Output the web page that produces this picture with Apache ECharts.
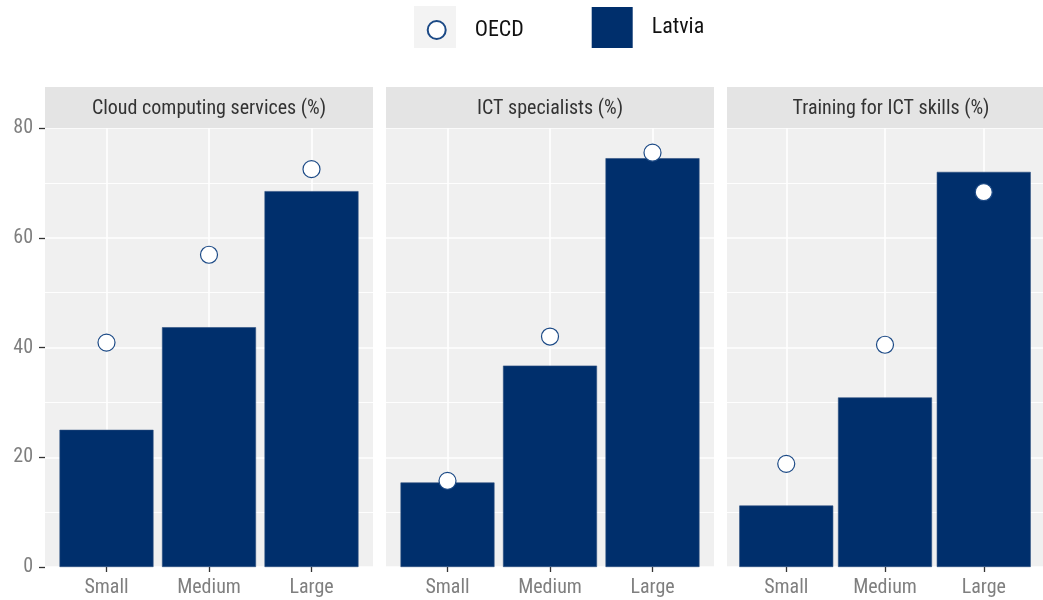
<!DOCTYPE html>
<html>
<head>
<meta charset="utf-8">
<script src="https://cdn.jsdelivr.net/npm/echarts@6/dist/echarts.min.js"></script>
<style>
html,body{margin:0;padding:0;background:#fff;}
#chart{width:1043px;height:600px;}
</style>
</head>
<body>
<div id="chart"></div>
<script>
const categories = ['Small', 'Medium', 'Large'];
const panelTitles = ['Cloud computing services (%)', 'ICT specialists (%)', 'Training for ICT skills (%)'];
const latviaCloud = [25.0, 43.7, 68.5];
const latviaSpecialists = [15.4, 36.7, 74.5];
const latviaTraining = [11.2, 30.9, 72.0];
const oecdCloud = [40.9, 56.9, 72.5];
const oecdSpecialists = [15.7, 42.0, 75.5];
const oecdTraining = [18.8, 40.5, 68.3];
const yTicks = [0, 20, 40, 60, 80];

const latviaPanels = [latviaCloud, latviaSpecialists, latviaTraining];
const oecdPanels = [oecdCloud, oecdSpecialists, oecdTraining];

// pick a condensed sans font if one is installed
function pickFont() {
  const ctx = document.createElement('canvas').getContext('2d');
  const s = 'Cloud computing services OECD Latvia Medium 0123';
  ctx.font = "20px 'Liberation Sans', sans-serif";
  const ref = ctx.measureText(s).width;
  const cands = ['Liberation Sans Narrow', 'Arial Narrow', 'Nimbus Sans Narrow', 'Roboto Condensed',
                 'DejaVu Sans Condensed', 'Open Sans Condensed', 'Noto Sans Condensed', 'Noto Sans Display Condensed'];
  for (const name of cands) {
    let present = false;
    for (const base of ['monospace', 'serif']) {
      ctx.font = '20px ' + base;
      const w0 = ctx.measureText(s).width;
      ctx.font = "20px '" + name + "', " + base;
      const w1 = ctx.measureText(s).width;
      if (w0 !== w1) present = true;
    }
    if (present) {
      ctx.font = "20px '" + name + "', sans-serif";
      const w = ctx.measureText(s).width;
      if (w < ref * 0.92) return {family: "'" + name + "', sans-serif", narrow: true, ratio: w / ref};
    }
  }
  return {family: "'Liberation Sans', Arial, sans-serif", narrow: false, ratio: 1};
}
const pf = pickFont();
const FONT = pf.family;
const SZ = pf.narrow ? 20 : 18;
const LSZ = pf.narrow ? 22 : 19;

const NAVY = '#002F6C';
const panelLefts = [45, 386, 727];
const panelWidth = 328;
const plotTop = 128;
const plotHeight = 439;
const stripTop = 87;
const stripHeight = 41;

const chart = echarts.init(document.getElementById('chart'), null, {renderer: 'canvas'});

const grids = [], xAxes = [], yAxes = [], series = [], graphics = [];

panelLefts.forEach((left, i) => {
  grids.push({
    left: left, top: plotTop, width: panelWidth, height: plotHeight,
    show: true, backgroundColor: '#f0f0f0', borderWidth: 0, containLabel: false
  });
  xAxes.push({
    gridIndex: i, type: 'value', min: -0.6, max: 2.6, splitNumber: 3,
    axisLine: {show: false, onZero: false},
    axisTick: {show: true, length: 5, customValues: [0, 1, 2], lineStyle: {color: '#333', width: 1.3}},
    axisLabel: {
      show: true, customValues: [0, 1, 2], margin: 11,
      color: '#7f7f7f', fontSize: SZ, fontFamily: FONT,
      formatter: v => (Number.isInteger(v) && categories[v] !== undefined) ? categories[v] : ''
    },
    splitLine: {show: true, lineStyle: {color: '#ffffff', width: 1.6}}
  });
  yAxes.push({
    gridIndex: i, type: 'value', min: yTicks[0], max: yTicks[yTicks.length - 1], interval: 20,
    axisLine: {show: false, onZero: false},
    axisTick: {show: i === 0, length: 6, lineStyle: {color: '#333', width: 1.3}},
    axisLabel: {show: i === 0, color: '#7f7f7f', fontSize: SZ, fontFamily: FONT, margin: 12},
    splitLine: {show: true, lineStyle: {color: '#ffffff', width: 1.6}},
    minorTick: {show: false, splitNumber: 2},
    minorSplitLine: {show: true, lineStyle: {color: '#ffffff', width: 0.9}}
  });
  series.push({
    name: 'Latvia', type: 'bar', xAxisIndex: i, yAxisIndex: i,
    barWidth: 94, z: 2,
    itemStyle: {color: NAVY, borderColor: '#2c4f80', borderWidth: 0.6},
    data: latviaPanels[i].map((v, k) => [k, v])
  });
  series.push({
    name: 'OECD', type: 'scatter', xAxisIndex: i, yAxisIndex: i,
    symbol: 'circle', symbolSize: 17, z: 3,
    itemStyle: {color: '#ffffff', borderColor: '#1c4a86', borderWidth: 1.2, opacity: 1},
    data: oecdPanels[i].map((v, k) => [k, v])
  });
  graphics.push({
    type: 'rect', x: left, y: stripTop, z: 1,
    shape: {x: 0, y: 0, width: panelWidth, height: stripHeight},
    style: {fill: '#e4e4e4'}
  });
  graphics.push({
    type: 'text', x: left + panelWidth / 2, y: stripTop + stripHeight / 2 + 1, z: 2,
    style: {
      text: panelTitles[i], fill: '#333333', fontSize: SZ, fontFamily: FONT,
      align: 'center', verticalAlign: 'middle', textAlign: 'center', textVerticalAlign: 'middle'
    }
  });
});

// legend key background for OECD
graphics.push({
  type: 'rect', x: 414, y: 6, z: 0,
  shape: {x: 0, y: 0, width: 42, height: 42},
  style: {fill: '#f3f3f3'}
});

const option = {
  backgroundColor: '#ffffff',
  animation: false,
  textStyle: {fontFamily: FONT},
  grid: grids,
  xAxis: xAxes,
  yAxis: yAxes,
  graphic: graphics,
  legend: [
    {
      data: ['OECD'], left: 426.7, top: 19, padding: 0,
      selectedMode: false, icon: 'circle', itemWidth: 18, itemHeight: 18,
      textStyle: {color: '#111', fontSize: LSZ, fontFamily: FONT, padding: [0, 0, 0, 24]}
    },
    {
      data: ['Latvia'], left: 591.7, top: 7, padding: 0,
      selectedMode: false, icon: 'rect', itemWidth: 41, itemHeight: 41,
      itemStyle: {borderWidth: 0},
      textStyle: {color: '#111', fontSize: LSZ, fontFamily: FONT, padding: [0, 0, 0, 14]}
    }
  ],
  series: series
};
chart.setOption(option);
</script>
</body>
</html>
